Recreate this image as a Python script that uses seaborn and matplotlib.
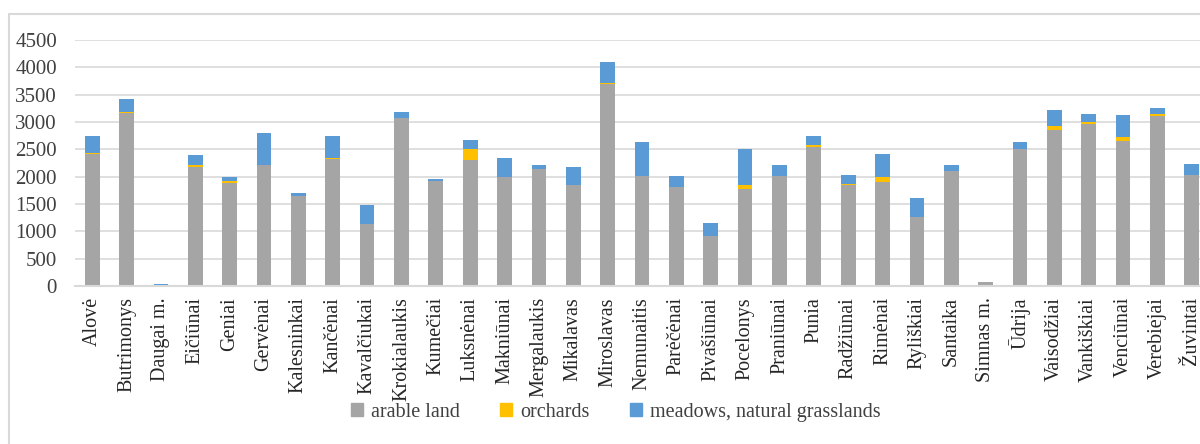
import pandas as pd
import matplotlib
matplotlib.use("Agg")
import matplotlib.pyplot as plt
from matplotlib.patches import Patch, Rectangle
import seaborn as sns

# Data (ha)
villages = ["Alovė", "Butrimonys", "Daugai m.", "Eičiūnai", "Geniai", "Gervėnai",
            "Kalesninkai", "Kančėnai", "Kavalčiukai", "Krokialaukis", "Kumečiai",
            "Luksnėnai", "Makniūnai", "Mergalaukis", "Mikalavas", "Miroslavas",
            "Nemunaitis", "Parėčėnai", "Pivašiūnai", "Pocelonys", "Praniūnai",
            "Punia", "Radžiūnai", "Rimėnai", "Ryliškiai", "Santaika", "Simnas m.",
            "Ūdrija", "Vaisodžiai", "Vankiškiai", "Venciūnai", "Verebiejai", "Žuvintai"]
arable = [2406, 3160, 5, 2175, 1892, 2205, 1654, 2315, 1128, 3080, 1923,
          2296, 2003, 2143, 1856, 3687, 2021, 1819, 913, 1776, 2021,
          2548, 1850, 1911, 1262, 2107, 70, 2511, 2860, 2970, 2645, 3117, 2039]
orchards = [28, 30, 0, 30, 20, 12, 0, 32, 0, 0, 0,
            215, 0, 0, 0, 33, 0, 0, 0, 74, 0,
            36, 20, 86, 0, 0, 0, 0, 74, 37, 81, 28, 0]
meadows = [310, 234, 38, 183, 79, 576, 55, 397, 349, 110, 43,
           165, 343, 62, 324, 371, 606, 202, 233, 661, 184,
           166, 169, 417, 349, 98, 12, 123, 287, 141, 397, 116, 191]

df = pd.DataFrame({"village": villages, "arable": arable,
                   "orchards": orchards, "meadows": meadows})
df["arable_orch"] = df["arable"] + df["orchards"]
df["total"] = df["arable_orch"] + df["meadows"]

c_arable, c_orch, c_mead = "#A5A5A5", "#FFC000", "#5B9BD5"
grid_c = "#D9D9D9"
text_c = "#404040"

sns.set_theme(style="white")
plt.rcParams["font.family"] = ["Liberation Serif", "DejaVu Serif"]

fig = plt.figure(figsize=(12, 4.44), dpi=100)
ax = fig.add_axes([75 / 1200, 158 / 444, 1134 / 1200, 246 / 444])

# stacked bars: draw cumulative totals from the top down
w = 0.43
sns.barplot(data=df, x="village", y="total", color=c_mead, width=w, ax=ax,
            saturation=1, linewidth=0)
sns.barplot(data=df, x="village", y="arable_orch", color=c_orch, width=w, ax=ax,
            saturation=1, linewidth=0)
sns.barplot(data=df, x="village", y="arable", color=c_arable, width=w, ax=ax,
            saturation=1, linewidth=0)

ax.set_ylim(0, 4500)
ax.set_xlim(-0.5, len(villages) - 0.5)
ax.set_yticks(range(0, 4501, 500))
ax.yaxis.grid(True, color=grid_c, linewidth=1.2)
ax.set_axisbelow(True)
for s in ["top", "right", "left"]:
    ax.spines[s].set_visible(False)
ax.spines["bottom"].set_color(grid_c)
ax.spines["bottom"].set_linewidth(1.5)
ax.set_xlabel("")
ax.set_ylabel("")
ax.tick_params(axis="y", length=0, pad=13, labelsize=15, labelcolor=text_c)
ax.tick_params(axis="x", length=0, pad=8, labelsize=14.5, labelcolor="#262626")
plt.setp(ax.get_xticklabels(), rotation=90, ha="center", va="top")

# legend
handles = [Patch(color=c_arable, label="arable land"),
           Patch(color=c_orch, label="orchards"),
           Patch(color=c_mead, label="meadows, natural grasslands")]
fig.legend(handles=handles, loc="center", bbox_to_anchor=(616 / 1200, 1 - 412 / 444),
           ncol=3, frameon=False, fontsize=14.5, handlelength=0.6, handleheight=0.6,
           handletextpad=0.4, columnspacing=2.0, labelcolor=text_c)

# chart area border (cut off at right and bottom like the original)
fig.patches.append(Rectangle((9 / 1200, -0.1), 1.2, 1.1 - 14 / 444,
                             transform=fig.transFigure, fill=False,
                             edgecolor=grid_c, linewidth=1.5))

fig.savefig("out.png", dpi=100)
